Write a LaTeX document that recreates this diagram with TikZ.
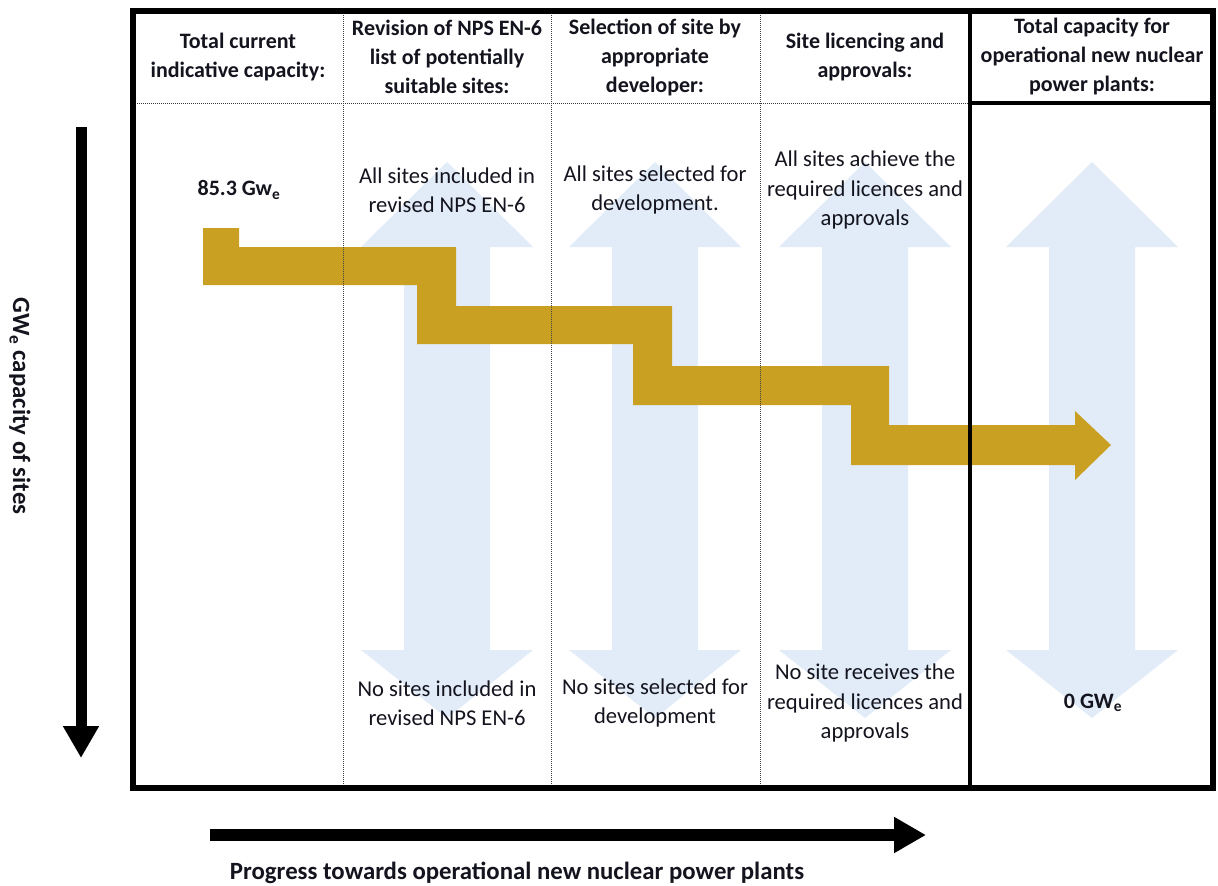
\documentclass[tikz,border=0pt]{standalone}
\usepackage{fontspec}
\setmainfont{Carlito}
\usetikzlibrary{arrows.meta}
\definecolor{gold}{RGB}{201,160,33}
\definecolor{paleblue}{RGB}{225,236,248}
\definecolor{inktext}{RGB}{20,20,30}
\tikzset{
  hdr/.style={font=\bfseries\fontsize{22}{29}\selectfont, align=center, inner sep=0pt, text=inktext},
  body/.style={font=\fontsize{22.6}{29.5}\selectfont, align=center, inner sep=0pt, text=inktext},
  valtext/.style={font=\bfseries\fontsize{22}{29}\selectfont, inner sep=0pt, text=inktext},
  axislabel/.style={font=\bfseries\fontsize{24.8}{30}\selectfont, inner sep=0pt, text=inktext},
  divider/.style={densely dotted, line width=1pt, black!75},
  solidline/.style={line width=4pt, black},
  frame/.style={line width=6pt, black},
  bigarrow/.style={line width=12pt, -{Triangle[length=32pt,width=34pt]}},
  stair/.style={fill=gold, draw=none},
  dblarr/.pic={
    \fill[paleblue] (-43,650) -- (-43,247) -- (-86,247) -- (0,162) -- (86,247) -- (43,247)
      -- (43,650) -- (86,650) -- (0,718) -- (-86,650) -- cycle;
  }
}
\begin{document}
\begin{tikzpicture}[x=1pt,y=-1pt]
\useasboundingbox (0,0) rectangle (1218,886);
\fill[white] (0,0) rectangle (1218,886);

% pale blue double arrows
\pic at (447,0) {dblarr};
\pic at (655,0) {dblarr};
\pic at (865,0) {dblarr};
\pic at (1092,0) {dblarr};

% gold staircase arrow
\fill[stair] (203,228) -- (239,228) -- (239,247) -- (456,247) -- (456,306) -- (672,306)
  -- (672,366) -- (889,366) -- (889,425) -- (1075,425) -- (1075,411) -- (1111,445)
  -- (1075,480) -- (1075,465) -- (851,465) -- (851,405) -- (633,405) -- (633,344)
  -- (417,344) -- (417,285) -- (203,285) -- cycle;

% table lines
\coordinate (tl) at (133,11);
\coordinate (br) at (1213,788);
\draw[divider] (133,103) -- (970,103);
\draw[solidline] (970,103) -- (1213,103);
\draw[divider] (343,11) -- (343,788);
\draw[divider] (551,11) -- (551,788);
\draw[divider] (760,11) -- (760,788);
\draw[solidline] (970,11) -- (970,788);
\draw[frame] (tl) rectangle (br);

% headers
\node[hdr] (h1) at (238,57) {Total current\\indicative capacity:};
\node[hdr] (h2) at (447,57) {Revision of NPS EN-6\\list of potentially\\suitable sites:};
\node[hdr] (h3) at (655,57) {Selection of site by\\appropriate\\developer:};
\node[hdr] (h4) at (865,57) {Site licencing and\\approvals:};
\node[hdr] (h5) at (1092,57) {Total capacity for\\operational new nuclear\\power plants:};

% body texts
\node[valtext] (v1) at (239,190) {85.3 Gw\textsubscript{e}};
\node[body] (t2) at (447,190) {All sites included in\\revised NPS EN-6};
\node[body] (t3) at (655,190) {All sites selected for\\development.};
\node[body] (t4) at (865,190) {All sites achieve the\\required licences and\\approvals};
\node[body] (b2) at (447,703) {No sites included in\\revised NPS EN-6};
\node[body] (b3) at (655,703) {No sites selected for\\development};
\node[body] (b4) at (865,703) {No site receives the\\required licences and\\approvals};
\node[valtext] (v5) at (1093,703) {0 GW\textsubscript{e}};

% axes
\coordinate (ytop) at (81,127);
\coordinate (ybot) at (81,758);
\draw[bigarrow, line width=11pt] (ytop) -- (ybot);
\coordinate (xleft) at (210,835);
\coordinate (xright) at (926,835);
\draw[bigarrow] (xleft) -- (xright);

\node[axislabel, rotate=-90] (ylab) at (20,406) {GW\textsubscript{e} capacity of sites};
\node[axislabel] (xlab) at (517,873) {Progress towards operational new nuclear power plants};
\end{tikzpicture}
\end{document}
